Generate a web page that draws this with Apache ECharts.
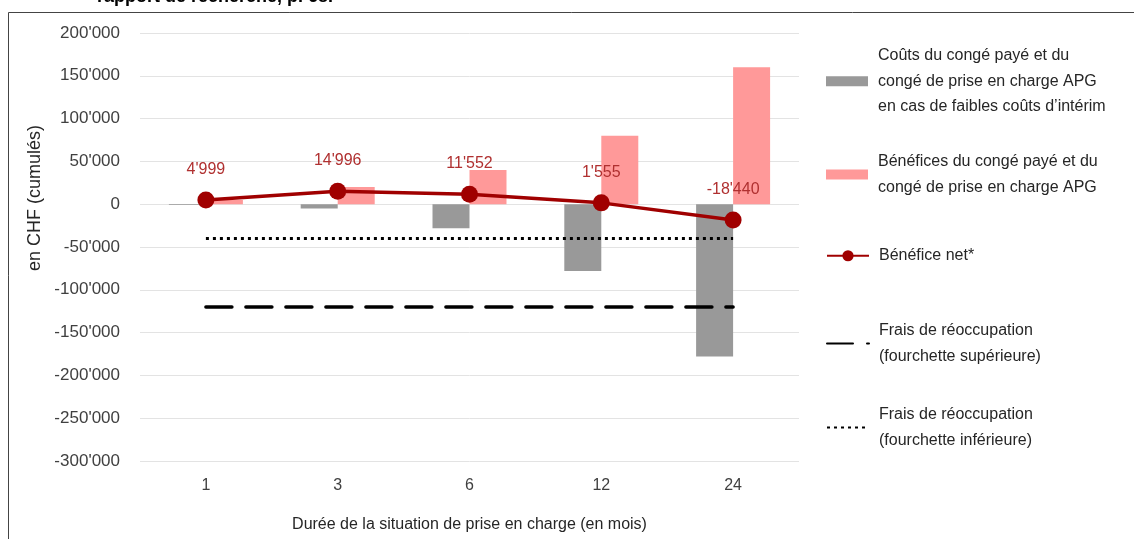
<!DOCTYPE html>
<html lang="fr">
<head>
<meta charset="UTF-8">
<title>Coûts et bénéfices du congé de prise en charge</title>
<script src="https://cdn.jsdelivr.net/npm/echarts@6/dist/echarts.min.js"></script>
<style>
  html, body { margin: 0; padding: 0; background: #fff; }
  #chart { width: 1134px; height: 539px; }
</style>
</head>
<body>
<div id="chart"></div>
<script>
// données
const categories = ['1', '3', '6', '12', '24'];
const couts = [-1000, -5000, -28000, -78000, -178000];
const benefices = [5000, 20000, 40000, 80000, 160000];
const beneficeNet = [4999, 14996, 11552, 1555, -18440];
const fraisSup = [-120000, -120000, -120000, -120000, -120000];
const fraisInf = [-40000, -40000, -40000, -40000, -40000];

const nomCouts = "Coûts du congé payé et du\ncongé de prise en charge APG\nen cas de faibles coûts d’intérim";
const nomBenef = "Bénéfices du congé payé et du\ncongé de prise en charge APG";
const nomNet = "Bénéfice net*";
const nomSup = "Frais de réoccupation\n(fourchette supérieure)";
const nomInf = "Frais de réoccupation\n(fourchette inférieure)";

const FONT = "'Liberation Sans', Arial, sans-serif";

// 12345 -> 12'345
const fmt = v => {
  const s = Math.abs(v).toString().replace(/\B(?=(\d{3})+(?!\d))/g, "'");
  return (v < 0 ? '-' : '') + s;
};

const legendBase = (name, top, extra) => Object.assign({
  data: [name],
  orient: 'vertical',
  left: 826,
  top: top,
  padding: 0,
  itemWidth: 42,
  itemHeight: 10,
  selectedMode: false,
  textStyle: { fontFamily: FONT, fontSize: 16, color: '#262626', lineHeight: 25.5, padding: [0, 0, 0, 5] }
}, extra || {});

const chart = echarts.init(document.getElementById('chart'));
chart.setOption({
  animation: false,
  backgroundColor: '#fff',
  grid: { left: 140, right: 335, top: 33, bottom: 78 },
  legend: [
    legendBase(nomCouts, 43, { icon: 'rect' }),
    legendBase(nomBenef, 149, { icon: 'rect' }),
    legendBase(nomNet, 243, { itemHeight: 14 }),
    legendBase(nomSup, 318, { itemStyle: { opacity: 0 } }),
    legendBase(nomInf, 402, { itemStyle: { opacity: 0 } })
  ],
  graphic: [
    { type: 'line', shape: { x1: 8.5, y1: 12.5, x2: 1134, y2: 12.5 }, style: { stroke: '#444', lineWidth: 1 } },
    { type: 'line', shape: { x1: 8.5, y1: 12.5, x2: 8.5, y2: 539 }, style: { stroke: '#444', lineWidth: 1 } },
    { type: 'text', left: 97, top: -12, style: { text: 'rapport de recherche, p. 68.', font: "bold 18px 'Liberation Sans', Arial, sans-serif", fill: '#000' } },
    { type: 'text', x: 35, y: 198, rotation: Math.PI / 2,
      style: { text: 'en CHF (cumulés)', font: "18px 'Liberation Sans', Arial, sans-serif", fill: '#262626', align: 'center', verticalAlign: 'middle' } }
  ],
  xAxis: {
    type: 'category',
    data: categories,
    axisLine: { show: false },
    axisTick: { show: false },
    axisLabel: { fontFamily: FONT, fontSize: 16, color: '#404040', margin: 17 },
    name: 'Durée de la situation de prise en charge (en mois)',
    nameLocation: 'middle',
    nameGap: 56,
    nameTextStyle: { fontFamily: FONT, fontSize: 16, color: '#262626' }
  },
  yAxis: {
    type: 'value',
    min: -300000,
    max: 200000,
    interval: 50000,
    axisLine: { show: false },
    axisTick: { show: false },
    axisLabel: { fontFamily: FONT, fontSize: 17, color: '#404040', margin: 20, formatter: fmt },
    splitLine: { lineStyle: { color: '#e3e3e3', width: 1 } }
  },
  series: [
    {
      name: nomCouts, type: 'bar', data: couts,
      barWidth: 37, barGap: '0%',
      itemStyle: { color: '#999999' }
    },
    {
      name: nomBenef, type: 'bar', data: benefices,
      barWidth: 37, barGap: '0%',
      itemStyle: { color: '#ff9999' }
    },
    {
      name: nomSup, type: 'line', data: fraisSup,
      symbol: 'none', z: 3,
      lineStyle: { color: '#000', width: 3.5, type: [26, 14], cap: 'round' },
      itemStyle: { color: '#000' }
    },
    {
      name: nomInf, type: 'line', data: fraisInf,
      symbol: 'none', z: 3,
      lineStyle: { color: '#000', width: 3, type: [3, 4] },
      itemStyle: { color: '#000' }
    },
    {
      name: nomNet, type: 'line', data: beneficeNet,
      symbol: 'circle', symbolSize: 17, z: 4,
      lineStyle: { color: '#a00000', width: 3.5 },
      itemStyle: { color: '#a00000' },
      label: {
        show: true, position: 'top', distance: 14,
        fontFamily: FONT, fontSize: 16, color: '#b03030',
        formatter: p => fmt(p.value)
      }
    }
  ]
});
</script>
</body>
</html>
